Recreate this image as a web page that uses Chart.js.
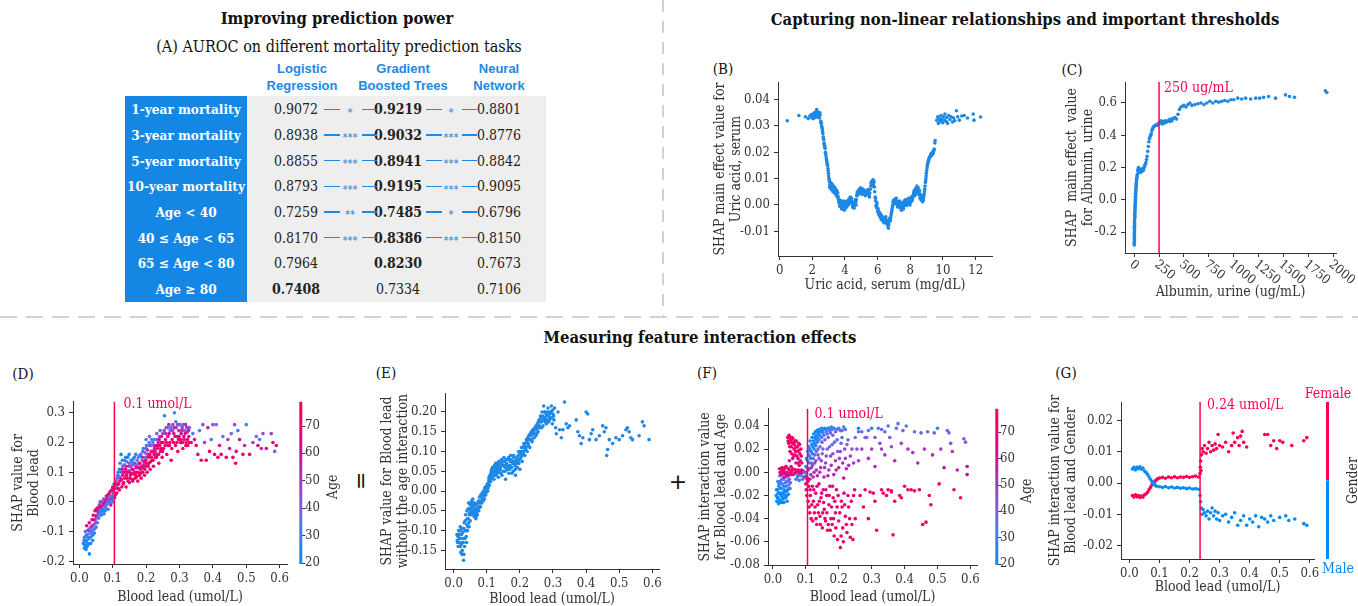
<!DOCTYPE html>
<html>
<head>
<meta charset="utf-8">
<title>SHAP figure</title>
<script src="https://cdn.jsdelivr.net/npm/chart.js@4.4.1/dist/chart.umd.min.js"></script>
<style>
  html, body { margin: 0; padding: 0; background: #fff; }
  body { position: relative; width: 1358px; height: 606px; overflow: hidden;
         font-family: "DejaVu Serif Condensed", "DejaVu Serif", serif; color: #111; }
  .t { position: absolute; transform: translate(-50%, -50%); white-space: nowrap; }
  canvas { position: absolute; }
  .head { font-weight: bold; font-size: 16.5px; }
  .sub { font-size: 16px; }
  .colhead { font-family: "Liberation Sans", Arial, sans-serif; font-weight: bold; font-size: 13px;
             color: #1e88e5; line-height: 17px; text-align: center; }
  .rowlab { color: #fff; font-weight: bold; font-size: 13.5px; }
  .val { font-size: 14px; color: #222; }
  .star { font-family: "DejaVu Sans", sans-serif; font-size: 10px; color: #1a7fd8; }
  .panel { font-size: 15px; color: #111; }
  .op { font-family: "DejaVu Sans", sans-serif; font-size: 22px; color: #111; }
  .seg { position: absolute; height: 1.5px; background: #1e88e5; }
</style>
</head>
<body>
<div style="position:absolute;left:662px;top:0;width:2px;height:316px;background:repeating-linear-gradient(to bottom,#d2d2d2 0 12px,transparent 12px 21px)"></div>
<div style="position:absolute;left:0;top:316px;width:1358px;height:2px;background:repeating-linear-gradient(to right,#d2d2d2 0 17px,transparent 17px 26px)"></div>
<div style="position:absolute;left:125px;top:96px;width:122px;height:206px;background:#1487e4"></div>
<div style="position:absolute;left:247px;top:96px;width:299px;height:206px;background:#eeeeee"></div>
<script>
const RED = '#ff0051', BLUE = '#008bfb', DOT = '#1e88e5', INK = '#333333';
const SERIF = '"DejaVu Serif Condensed", "DejaVu Serif", serif';

/* ================= DATA ================= */

// (A) AUROC table
const tasks = ['1-year mortality', '3-year mortality', '5-year mortality', '10-year mortality',
               'Age < 40', '40 ≤ Age < 65', '65 ≤ Age < 80', 'Age ≥ 80'];
const modelNames = [['Logistic', 'Regression'], ['Gradient', 'Boosted Trees'], ['Neural', 'Network']];
const lrAuc  = [0.9072, 0.8938, 0.8855, 0.8793, 0.7259, 0.8170, 0.7964, 0.7408];
const gbtAuc = [0.9219, 0.9032, 0.8941, 0.9195, 0.7485, 0.8386, 0.8230, 0.7334];
const nnAuc  = [0.8801, 0.8776, 0.8842, 0.9095, 0.6796, 0.8150, 0.7673, 0.7106];
const lrStars = ['*', '***', '***', '***', '**', '***', '', ''];
const nnStars = ['*', '***', '***', '***', '*', '***', '', ''];

// (B) uric acid [x, shap]
const uricPts = [
  [0.47,0.032],[1.18,0.034],[1.58,0.0335],[1.75,0.0328],[1.85,0.0338],[1.92,0.0342],[1.98,0.0330],[2.03,0.0345],
  [2.08,0.0336],[2.12,0.0350],[2.17,0.0340],[2.2,0.0332],[2.24,0.0355],[2.27,0.0362],[2.3,0.0345],[2.33,0.0352],
  [2.36,0.0338],[2.4,0.0348],[2.44,0.0330],[2.48,0.0342],
  [2.0,0.0338],[2.06,0.0328],[2.14,0.0345],[2.22,0.0340],[2.26,0.0334],[2.32,0.0340],[2.38,0.0352],[2.42,0.0340],
  [2.46,0.0350],
  [2.52,0.0318],[2.55,0.0310],[2.57,0.0300],[2.6,0.0292],[2.62,0.0285],[2.65,0.0270],[2.67,0.0258],[2.7,0.0248],
  [2.72,0.0235],[2.75,0.0225],[2.78,0.0215],[2.8,0.0200],[2.83,0.0188],[2.86,0.0178],[2.88,0.0168],[2.9,0.0160],
  [2.93,0.0150],[2.96,0.0138],[2.99,0.0120],[3.02,0.0100],[3.05,0.0088],
  [2.53,0.0312],[2.58,0.0296],[2.63,0.0278],[2.68,0.0252],[2.73,0.0230],[2.77,0.0220],[2.82,0.0195],[2.87,0.0172],
  [2.92,0.0155],[2.97,0.0130],[3.0,0.0110],[3.04,0.0095],
  [3.08,0.0078],[3.1,0.0065],[3.12,0.0085],[3.15,0.0072],[3.18,0.0058],[3.2,0.0080],[3.24,0.0066],[3.27,0.0050],
  [3.3,0.0072],[3.33,0.0060],[3.36,0.0045],[3.4,0.0064],[3.43,0.0052],[3.46,0.0038],[3.5,0.0055],[3.53,0.0030],
  [3.56,0.0045],[3.6,0.0022],
  [3.06,0.0068],[3.11,0.0075],[3.14,0.0062],[3.17,0.0078],[3.22,0.0070],[3.26,0.0062],[3.29,0.0058],[3.32,0.0068],
  [3.38,0.0052],[3.42,0.0060],[3.48,0.0045],[3.52,0.0048],[3.58,0.0032],
  [3.64,0.0010],[3.68,-0.0005],[3.72,0.0018],[3.76,0.0002],[3.8,-0.0015],[3.84,0.0008],[3.88,-0.0008],[3.92,0.0015],
  [3.96,-0.0020],[4.0,0.0003],[4.04,-0.0012],[4.08,0.0010],[4.12,-0.0004],[4.16,0.0016],[4.2,0.0000],[4.24,0.0022],
  [4.28,0.0008],[4.32,0.0030],[4.36,0.0015],[4.4,0.0025],[4.44,0.0005],[4.48,-0.0010],[4.52,0.0002],[4.56,-0.0012],
  [4.6,0.0008],[4.64,0.0020],[4.68,0.0000],[4.72,0.0035],
  [3.62,0.0015],[3.66,0.0005],[3.7,0.0008],[3.74,-0.0008],[3.78,0.0010],[3.82,0.0002],[3.86,0.0012],[3.9,-0.0005],
  [3.94,0.0005],[3.98,-0.0010],[4.02,0.0012],[4.06,0.0000],[4.1,-0.0008],[4.14,0.0008],[4.18,0.0006],[4.22,0.0012],
  [4.26,0.0015],[4.3,0.0020],[4.34,0.0022],[4.38,0.0008],[4.42,0.0015],[4.46,-0.0002],[4.5,-0.0005],[4.54,0.0005],
  [4.58,-0.0002],[4.62,0.0012],[4.66,0.0010],[4.7,0.0020],[4.74,0.0042],
  [4.76,0.0050],[4.8,0.0038],[4.85,0.0058],[4.9,0.0045],[4.95,0.0065],[5.0,0.0052],[5.05,0.0040],[5.1,0.0060],
  [5.15,0.0048],[5.2,0.0055],[5.25,0.0035],[5.3,0.0050],[5.35,0.0040],[5.4,0.0058],[5.45,0.0044],[5.5,0.0030],
  [5.55,0.0060],[5.6,0.0085],[5.63,0.0075],[5.66,0.0092],[5.7,0.0080],[5.73,0.0095],[5.76,0.0070],[5.78,0.0088],
  [4.78,0.0045],[4.82,0.0050],[4.88,0.0052],[4.92,0.0055],[4.98,0.0060],[5.02,0.0045],[5.08,0.0050],[5.12,0.0054],
  [5.18,0.0042],[5.22,0.0048],[5.28,0.0044],[5.32,0.0046],[5.38,0.0050],[5.42,0.0050],[5.48,0.0038],[5.52,0.0045],
  [5.58,0.0072],[5.62,0.0082],[5.68,0.0088],[5.72,0.0088],[5.75,0.0080],[5.8,0.0068],
  [5.82,0.0050],[5.85,0.0030],[5.88,0.0015],[5.9,-0.0002],[5.93,-0.0010],[5.96,0.0008],[6.0,-0.0025],[6.03,-0.0015],
  [6.06,-0.0035],[6.1,-0.0028],[6.14,-0.0045],[6.18,-0.0035],[6.22,-0.0055],[6.26,-0.0042],[6.3,-0.0060],
  [6.34,-0.0048],[6.38,-0.0068],[6.42,-0.0052],[6.46,-0.0062],[6.5,-0.0045],[6.54,-0.0070],[6.58,-0.0058],
  [6.62,-0.0080],[6.66,-0.0088],[6.7,-0.0065],[6.74,-0.0050],[6.78,-0.0060],[6.82,-0.0040],[6.86,-0.0025],
  [5.87,0.0025],[5.95,0.0000],[5.98,-0.0012],[6.02,-0.0020],[6.08,-0.0030],[6.12,-0.0038],[6.16,-0.0040],
  [6.2,-0.0045],[6.24,-0.0050],[6.28,-0.0050],[6.32,-0.0055],[6.36,-0.0058],[6.4,-0.0060],[6.44,-0.0058],
  [6.48,-0.0055],[6.52,-0.0058],[6.56,-0.0065],[6.6,-0.0068],[6.64,-0.0072],[6.68,-0.0075],[6.72,-0.0058],
  [6.76,-0.0055],[6.8,-0.0050],[6.84,-0.0032],[6.88,-0.0018],
  [6.9,-0.0010],[6.94,0.0008],[6.98,0.0018],[7.02,0.0005],[7.06,0.0022],[7.1,0.0010],[7.14,0.0025],[7.18,0.0002],
  [7.22,-0.0008],[7.26,0.0012],[7.3,-0.0002],[7.34,0.0015],[7.38,-0.0012],[7.42,0.0005],[7.46,-0.0020],[7.5,-0.0005],
  [7.54,0.0010],[7.58,-0.0015],[7.62,0.0002],[7.66,0.0018],[7.7,0.0004],[7.74,0.0020],[7.78,-0.0002],[7.82,0.0015],
  [7.86,0.0008],[7.9,0.0025],[7.94,0.0010],[7.98,0.0000],[8.02,0.0018],[8.06,0.0030],[8.1,0.0015],[8.14,0.0028],
  [6.92,-0.0002],[6.96,0.0012],[7.0,0.0012],[7.04,0.0015],[7.08,0.0015],[7.12,0.0018],[7.16,0.0012],[7.2,0.0005],
  [7.24,0.0002],[7.28,0.0005],[7.32,0.0006],[7.36,0.0002],[7.4,-0.0004],[7.44,-0.0008],[7.48,-0.0012],[7.52,0.0002],
  [7.56,-0.0004],[7.6,-0.0006],[7.64,0.0010],[7.68,0.0012],[7.72,0.0012],[7.76,0.0010],[7.8,0.0006],[7.84,0.0012],
  [7.88,0.0016],[7.92,0.0018],[7.96,0.0005],[8.0,0.0010],[8.04,0.0025],[8.08,0.0022],[8.12,0.0022],[8.16,0.0035],
  [8.2,0.0040],[8.24,0.0055],[8.28,0.0035],[8.32,0.0062],[8.36,0.0045],[8.4,0.0072],[8.44,0.0050],[8.48,0.0065],
  [8.52,0.0040],[8.56,0.0055],[8.6,0.0025],[8.64,0.0038],[8.68,0.0018],[8.72,0.0030],[8.76,0.0012],[8.8,0.0025],
  [8.84,0.0040],[8.88,0.0060],[8.92,0.0085],[8.95,0.0100],[8.98,0.0120],[9.02,0.0140],[9.05,0.0155],[9.1,0.0165],
  [8.22,0.0048],[8.26,0.0045],[8.3,0.0048],[8.34,0.0052],[8.38,0.0058],[8.42,0.0060],[8.46,0.0058],[8.5,0.0052],
  [8.54,0.0048],[8.58,0.0040],[8.62,0.0032],[8.66,0.0028],[8.7,0.0024],[8.74,0.0020],[8.78,0.0018],[8.82,0.0032],
  [8.86,0.0050],[8.9,0.0072],[8.94,0.0092],[8.97,0.0110],[9.0,0.0130],[9.04,0.0148],[9.08,0.0160],[9.12,0.0170],
  [9.16,0.0178],[9.2,0.0182],[9.24,0.0188],[9.28,0.0195],[9.32,0.0192],[9.36,0.0200],[9.4,0.0198],[9.44,0.0208],
  [9.14,0.0175],[9.18,0.0180],[9.22,0.0185],[9.26,0.0192],[9.3,0.0188],[9.34,0.0198],[9.38,0.0195],[9.42,0.0205],
  [9.46,0.0212],[9.5,0.0235],[9.52,0.0245],
  [9.62,0.0322],[9.68,0.0335],[9.72,0.0310],[9.78,0.0328],[9.82,0.0318],[9.88,0.0340],[9.92,0.0325],[9.98,0.0312],
  [10.02,0.0335],[10.08,0.0322],[10.12,0.0345],[10.18,0.0318],[10.22,0.0332],[10.28,0.0310],[10.35,0.0340],
  [10.42,0.0325],[10.5,0.0335],[10.58,0.0315],[10.65,0.0330],[10.72,0.0320],[10.82,0.0358],[10.9,0.0335],
  [11.0,0.0322],[11.15,0.0338],[11.3,0.0340],[11.5,0.0330],[11.85,0.0345],[11.9,0.0322],[12.3,0.0334]
];
const uricTicksX = [0, 2, 4, 6, 8, 10, 12];
const uricTicksY = [-0.01, 0, 0.01, 0.02, 0.03, 0.04];

// (C) urine albumin [x, shap]
const albuminPts = [
  [1,-0.28],[0,-0.27],[2,-0.26],[4,-0.25],[1,-0.24],[2,-0.23],[3,-0.22],[1,-0.21],[2,-0.20],[4,-0.19],[3,-0.18],
  [2,-0.17],[4,-0.16],[5,-0.15],[3,-0.14],[4,-0.13],[5,-0.12],[7,-0.11],[6,-0.10],[7,-0.09],[6,-0.08],[9,-0.07],
  [8,-0.06],[10,-0.05],[9,-0.04],[12,-0.03],[10,-0.02],[13,-0.01],[11,0.0],[14,0.01],[12,0.02],[15,0.03],[14,0.04],
  [17,0.05],[16,0.06],[19,0.07],[18,0.08],[21,0.09],[20,0.10],[22,0.11],[24,0.12],[25,0.13],[28,0.14],[30,0.15],
  [33,0.16],[36,0.18],[40,0.19],[44,0.20],[48,0.18],[52,0.19],[56,0.17],[60,0.18],[65,0.17],[70,0.185],[75,0.175],
  [80,0.19],[85,0.18],[90,0.195],[95,0.185],[100,0.2],[106,0.21],[112,0.22],[118,0.23],[124,0.25],[130,0.27],
  [136,0.3],[142,0.33],[148,0.36],[154,0.38],[160,0.39],[166,0.40],[172,0.41],[178,0.43],[185,0.44],[192,0.45],
  [200,0.455],[210,0.46],[220,0.465],[230,0.46],[240,0.47],[250,0.475],[260,0.48],[270,0.49],[280,0.47],[290,0.485],
  [300,0.475],[310,0.49],[320,0.48],[330,0.485],[340,0.49],[350,0.495],[360,0.485],[370,0.5],[380,0.49],[395,0.505],
  [410,0.51],[425,0.5],[440,0.53],[455,0.56],[470,0.575],[485,0.58],[500,0.585],[520,0.575],[540,0.59],[560,0.6],
  [580,0.585],[610,0.59],[640,0.595],[670,0.6],[700,0.59],[730,0.6],[760,0.61],[790,0.6],[820,0.61],[850,0.605],
  [880,0.61],[910,0.615],[940,0.61],[970,0.62],[1000,0.62],[1040,0.63],[1080,0.625],[1120,0.63],[1170,0.625],
  [1220,0.63],[1260,0.63],[1300,0.635],[1350,0.64],[1420,0.63],[1520,0.65],[1560,0.64],[1610,0.635],
  [1920,0.675],[1935,0.665]
];
const albuminTicksX = [0, 250, 500, 750, 1000, 1250, 1500, 1750, 2000];
const albuminTicksY = [-0.2, 0, 0.2, 0.4, 0.6];

// (D) blood lead SHAP value [x, shap, age]
const leadPts = [
  [0.012,-0.14,25],[0.015,-0.12,30],[0.015,-0.155,22],[0.018,-0.10,35],[0.02,-0.13,25],[0.02,-0.16,20],
  [0.022,-0.08,65],[0.024,-0.11,28],[0.025,-0.145,24],[0.027,-0.095,60],[0.028,-0.125,26],[0.03,-0.175,22],
  [0.03,-0.07,70],[0.032,-0.105,30],[0.034,-0.14,25],[0.035,-0.085,55],[0.037,-0.115,27],[0.038,-0.06,68],
  [0.04,-0.095,32],[0.04,-0.13,24],[0.042,-0.045,70],[0.044,-0.075,40],[0.045,-0.105,26],[0.047,-0.03,72],
  [0.048,-0.06,35],[0.05,-0.085,25],[0.05,-0.025,66],[0.052,-0.045,50],[0.054,-0.07,28],[0.055,-0.02,70],
  [0.057,-0.035,62],[0.058,-0.055,30],[0.06,-0.01,45],[0.06,-0.04,25],[0.062,0.0,35],[0.064,-0.025,68],
  [0.066,-0.045,28],[0.068,-0.015,55],[0.07,-0.03,40],[0.072,-0.005,65],[0.074,-0.04,26],[0.076,0.005,50],
  [0.078,-0.02,30],[0.08,0.01,70],[0.082,-0.01,40],[0.084,0.02,60],[0.086,-0.025,28],[0.088,0.0,66],
  [0.09,0.03,72],[0.092,0.01,35],[0.094,-0.01,60],[0.096,0.04,45],[0.098,0.02,68],[0.1,0.0,30],[0.1,0.05,70],
  [0.102,0.03,50],[0.104,0.06,28],[0.106,0.015,65],[0.108,0.045,72],[0.11,0.07,35],
  [0.014,-0.13,28],[0.016,-0.145,22],[0.019,-0.115,26],[0.021,-0.135,24],[0.023,-0.15,21],[0.026,-0.12,30],
  [0.029,-0.14,23],[0.031,-0.09,40],[0.033,-0.12,27],[0.036,-0.1,33],[0.039,-0.08,55],[0.041,-0.11,26],
  [0.043,-0.06,62],[0.046,-0.09,30],[0.049,-0.07,45],[0.051,-0.05,70],[0.053,-0.03,68],[0.056,-0.05,35],
  [0.059,-0.025,60],[0.061,-0.03,27],[0.063,-0.015,72],[0.065,-0.035,32],[0.067,0.0,50],[0.069,-0.025,26],
  [0.071,-0.012,70],[0.073,0.01,45],[0.075,-0.015,35],[0.077,-0.03,24],[0.079,0.0,62],[0.081,0.02,70],
  [0.083,-0.005,30],[0.085,0.01,55],[0.087,0.025,72],[0.089,0.015,40],[0.091,0.0,28],[0.093,0.035,66],
  [0.095,0.02,30],[0.097,0.01,55],[0.099,0.04,72],[0.101,0.015,25],[0.103,0.045,66],[0.105,0.03,35],
  [0.107,0.06,70],[0.109,0.025,62],
  [0.112,0.03,70],[0.115,0.09,30],[0.118,0.06,60],[0.12,0.11,25],[0.12,0.04,72],[0.123,0.08,55],[0.125,0.16,22],
  [0.127,0.05,68],[0.13,0.12,30],[0.13,0.09,65],[0.133,0.065,70],[0.135,0.14,28],[0.137,0.1,50],[0.14,0.05,72],
  [0.14,0.12,62],[0.143,0.08,70],[0.145,0.15,25],[0.147,0.105,45],[0.15,0.065,66],[0.15,0.13,35],[0.153,0.09,72],
  [0.155,0.14,24],[0.157,0.11,60],[0.16,0.07,70],[0.16,0.125,40],[0.163,0.095,68],[0.165,0.15,30],[0.167,0.08,72],
  [0.17,0.12,55],[0.17,0.1,65],[0.173,0.14,28],[0.175,0.07,70],[0.178,0.13,45],[0.18,0.09,72],[0.18,0.155,26],
  [0.183,0.11,62],[0.185,0.08,68],[0.188,0.14,35],[0.19,0.1,70],[0.19,0.17,30],[0.193,0.125,55],[0.195,0.09,72],
  [0.198,0.15,40],[0.2,0.12,68],[0.2,0.18,28],[0.2,0.21,30],[0.203,0.1,72],[0.205,0.16,50],[0.208,0.13,66],
  [0.21,0.19,35],[0.21,0.22,40],[0.212,0.11,70],[0.215,0.17,60],[0.218,0.14,72],[0.22,0.2,30],[0.222,0.12,68],
  [0.225,0.18,55],[0.228,0.15,72],[0.23,0.21,40],[0.233,0.16,66],[0.235,0.19,60],[0.238,0.13,70],[0.24,0.22,45],
  [0.243,0.17,72],[0.245,0.2,58],[0.248,0.15,70],
  [0.111,0.05,45],[0.113,0.08,28],[0.114,0.06,70],[0.116,0.1,24],[0.117,0.045,66],[0.119,0.085,40],[0.121,0.07,72],
  [0.122,0.13,28],[0.124,0.1,35],[0.126,0.075,70],[0.128,0.11,60],[0.129,0.14,26],[0.131,0.06,72],[0.132,0.1,68],
  [0.134,0.125,40],[0.136,0.08,72],[0.138,0.11,66],[0.139,0.15,22],[0.141,0.09,70],[0.142,0.135,35],[0.144,0.1,72],
  [0.146,0.07,68],[0.148,0.12,55],[0.149,0.16,24],[0.151,0.1,70],[0.152,0.08,72],[0.154,0.12,45],[0.156,0.095,68],
  [0.158,0.135,30],[0.159,0.075,72],[0.161,0.11,66],[0.162,0.145,28],[0.164,0.1,70],[0.166,0.13,50],[0.168,0.09,72],
  [0.169,0.16,26],[0.171,0.115,66],[0.172,0.085,70],[0.174,0.125,40],[0.176,0.1,72],[0.177,0.15,30],[0.179,0.115,62],
  [0.181,0.13,70],[0.182,0.095,72],[0.184,0.16,35],[0.186,0.12,68],[0.187,0.1,72],[0.189,0.15,55],[0.191,0.115,70],
  [0.192,0.18,28],[0.194,0.135,66],[0.196,0.11,72],[0.197,0.165,40],[0.199,0.14,70],[0.201,0.19,32],[0.202,0.13,72],
  [0.204,0.175,55],[0.206,0.12,70],[0.207,0.15,68],[0.209,0.2,30],[0.211,0.16,72],[0.213,0.135,70],[0.214,0.19,45],
  [0.216,0.15,72],[0.217,0.21,28],[0.219,0.17,66],[0.221,0.14,72],[0.223,0.19,50],[0.224,0.16,70],[0.226,0.21,35],
  [0.227,0.17,72],[0.229,0.19,62],[0.231,0.15,70],[0.232,0.23,40],[0.234,0.18,72],[0.236,0.2,55],[0.237,0.16,70],
  [0.239,0.21,66],[0.241,0.19,72],[0.242,0.24,35],[0.244,0.18,70],[0.246,0.22,60],[0.247,0.2,72],[0.249,0.17,70],
  [0.25,0.23,50],[0.252,0.18,70],[0.255,0.29,25],[0.258,0.21,65],[0.26,0.25,45],[0.262,0.16,72],[0.265,0.22,60],
  [0.268,0.26,55],[0.27,0.19,70],[0.272,0.24,40],[0.275,0.14,72],[0.278,0.21,66],[0.28,0.26,50],[0.283,0.23,62],
  [0.285,0.3,30],[0.288,0.19,70],[0.29,0.25,48],[0.293,0.22,68],[0.295,0.17,72],[0.298,0.24,55],[0.3,0.26,45],
  [0.303,0.2,70],[0.305,0.23,62],[0.308,0.25,50],[0.31,0.18,72],[0.313,0.22,66],[0.315,0.24,40],[0.318,0.26,60],
  [0.32,0.2,70],[0.323,0.235,52],[0.325,0.19,72],[0.328,0.22,65],[0.33,0.25,35],
  [0.251,0.2,72],[0.254,0.24,45],[0.257,0.19,70],[0.259,0.23,55],[0.261,0.2,68],[0.264,0.25,40],[0.266,0.19,72],
  [0.269,0.23,60],[0.271,0.2,70],[0.274,0.25,35],[0.277,0.18,72],[0.279,0.24,48],[0.282,0.2,70],[0.284,0.25,55],
  [0.287,0.22,72],[0.289,0.27,30],[0.292,0.2,70],[0.294,0.26,45],[0.297,0.21,72],[0.299,0.22,62],[0.302,0.26,40],
  [0.304,0.21,70],[0.307,0.24,55],[0.309,0.2,72],[0.312,0.26,45],[0.314,0.21,70],[0.317,0.23,62],[0.319,0.19,72],
  [0.322,0.25,50],[0.324,0.21,70],[0.327,0.24,60],[0.329,0.2,72],
  [0.335,0.2,70],[0.34,0.23,35],[0.345,0.21,60],[0.35,0.19,72],[0.355,0.16,65],[0.36,0.24,30],[0.365,0.14,70],
  [0.37,0.26,45],[0.375,0.2,50],[0.38,0.14,72],[0.385,0.25,55],[0.39,0.17,68],[0.395,0.21,30],[0.4,0.26,45],
  [0.405,0.16,70],[0.41,0.26,40],[0.415,0.15,72],[0.42,0.19,60],[0.425,0.16,68],[0.43,0.22,35],[0.44,0.15,72],
  [0.445,0.21,50],[0.45,0.18,60],[0.455,0.23,40],[0.46,0.15,70],[0.465,0.26,45],[0.468,0.13,72],[0.47,0.17,65],
  [0.475,0.24,30],[0.48,0.21,60],[0.49,0.16,70],[0.495,0.19,55],[0.5,0.26,30],[0.51,0.16,68],[0.52,0.2,50],
  [0.53,0.22,40],[0.535,0.19,65],[0.54,0.21,28],[0.545,0.18,55],[0.55,0.23,45],[0.56,0.18,60],[0.575,0.23,50],
  [0.58,0.2,70],[0.585,0.17,35],[0.59,0.19,72]
];
const leadTicksX = [0, 0.1, 0.2, 0.3, 0.4, 0.5, 0.6];
const leadTicksY = [-0.2, -0.1, 0, 0.1, 0.2, 0.3];

// (E) blood lead main effect without age interaction [x, shap]
const leadMainPts = [
  [0.01,-0.11],[0.012,-0.13],[0.015,-0.1],[0.018,-0.12],[0.02,-0.14],[0.02,-0.09],[0.022,-0.155],[0.024,-0.11],
  [0.025,-0.16],[0.026,-0.13],[0.028,-0.095],[0.03,-0.175],[0.03,-0.12],[0.032,-0.08],[0.033,-0.14],[0.035,-0.1],
  [0.036,-0.06],[0.038,-0.115],[0.04,-0.085],[0.04,-0.05],[0.042,-0.1],[0.044,-0.07],[0.045,-0.03],[0.047,-0.09],
  [0.048,-0.055],[0.05,-0.035],[0.05,-0.075],[0.052,-0.045],[0.054,-0.025],[0.055,-0.06],[0.057,-0.04],
  [0.058,-0.02],[0.06,-0.05],[0.062,-0.065],[0.063,-0.03],[0.065,-0.045],[0.067,-0.07],[0.068,-0.055],
  [0.07,-0.035],[0.072,-0.06],[0.074,-0.045],[0.075,-0.025],[0.077,-0.04],[0.078,-0.015],[0.08,-0.03],
  [0.082,-0.01],[0.084,-0.025],[0.086,-0.005],[0.088,-0.02],[0.09,0.0],[0.092,-0.012],[0.094,0.008],
  [0.096,-0.005],[0.098,0.012],[0.1,-0.002],[0.102,0.018],[0.104,0.008],[0.106,0.028],[0.108,0.015],[0.11,0.04],
  [0.011,-0.125],[0.013,-0.115],[0.014,-0.14],[0.016,-0.11],[0.017,-0.13],[0.019,-0.1],[0.021,-0.12],[0.023,-0.135],
  [0.024,-0.095],[0.026,-0.15],[0.027,-0.105],[0.029,-0.13],[0.031,-0.16],[0.031,-0.095],[0.034,-0.12],
  [0.035,-0.075],[0.037,-0.1],[0.039,-0.13],[0.041,-0.07],[0.043,-0.09],[0.044,-0.045],[0.046,-0.08],[0.047,-0.06],
  [0.049,-0.045],[0.051,-0.06],[0.053,-0.03],[0.054,-0.05],[0.056,-0.035],[0.057,-0.055],[0.059,-0.04],
  [0.061,-0.03],[0.062,-0.05],[0.064,-0.06],[0.066,-0.035],[0.068,-0.065],[0.069,-0.045],[0.071,-0.05],
  [0.073,-0.03],[0.076,-0.05],[0.079,-0.025],[0.081,-0.04],[0.083,-0.015],[0.085,-0.03],[0.087,-0.01],
  [0.089,-0.025],[0.091,-0.005],[0.093,-0.02],[0.095,0.0],[0.097,-0.01],[0.099,0.005],[0.101,0.01],[0.103,0.0],
  [0.105,0.02],[0.107,0.035],[0.109,0.025],
  [0.112,0.025],[0.114,0.05],[0.116,0.035],[0.118,0.06],[0.12,0.045],[0.122,0.03],[0.124,0.065],[0.126,0.05],
  [0.128,0.04],[0.13,0.07],[0.132,0.055],[0.135,0.035],[0.137,0.075],[0.14,0.06],[0.142,0.045],[0.145,0.08],
  [0.147,0.065],[0.15,0.05],[0.152,0.085],[0.155,0.06],[0.157,0.03],[0.16,0.07],[0.162,0.055],[0.165,0.08],
  [0.167,0.045],[0.17,0.065],[0.172,0.09],[0.175,0.06],[0.177,0.075],[0.18,0.05],[0.182,0.085],[0.185,0.065],
  [0.187,0.04],[0.19,0.08],[0.192,0.06],[0.195,0.09],[0.197,0.07],[0.2,0.1],[0.2,0.055],[0.203,0.085],
  [0.205,0.11],[0.207,0.075],[0.21,0.095],[0.212,0.12],[0.215,0.09],[0.217,0.105],[0.22,0.13],[0.222,0.1],
  [0.225,0.12],[0.227,0.14],[0.23,0.11],[0.232,0.13],[0.235,0.15],[0.237,0.125],[0.24,0.145],[0.243,0.135],
  [0.245,0.16],[0.248,0.14],[0.25,0.155],[0.253,0.17],[0.255,0.15],[0.258,0.18],[0.26,0.16],[0.262,0.19],
  [0.265,0.175],[0.267,0.2],[0.27,0.165],[0.272,0.215],[0.275,0.185],[0.277,0.2],[0.28,0.17],[0.282,0.19],
  [0.285,0.21],[0.287,0.175],[0.29,0.2],[0.292,0.185],[0.295,0.215],[0.298,0.17],[0.3,0.195],[0.303,0.18],
  [0.305,0.21],[0.308,0.16],
  [0.111,0.03],[0.113,0.045],[0.115,0.055],[0.117,0.04],[0.119,0.05],[0.121,0.06],[0.123,0.04],[0.125,0.055],
  [0.127,0.07],[0.129,0.06],[0.131,0.045],[0.134,0.065],[0.136,0.05],[0.139,0.07],[0.141,0.055],[0.144,0.07],
  [0.146,0.04],[0.149,0.075],[0.151,0.065],[0.154,0.075],[0.156,0.05],[0.159,0.08],[0.161,0.065],[0.164,0.06],
  [0.166,0.085],[0.169,0.055],[0.171,0.075],[0.174,0.08],[0.176,0.045],[0.179,0.07],[0.181,0.09],[0.184,0.075],
  [0.186,0.055],[0.189,0.07],[0.191,0.085],[0.194,0.075],[0.196,0.1],[0.199,0.08],[0.201,0.095],[0.204,0.1],
  [0.206,0.09],[0.209,0.11],[0.211,0.1],[0.214,0.115],[0.216,0.12],[0.219,0.11],[0.221,0.125],[0.224,0.135],
  [0.226,0.115],[0.229,0.13],[0.231,0.145],[0.234,0.14],[0.236,0.13],[0.239,0.155],[0.241,0.15],[0.244,0.145],
  [0.246,0.155],[0.249,0.165],[0.251,0.145],[0.254,0.16],[0.256,0.175],[0.259,0.165],[0.261,0.175],[0.264,0.185],
  [0.266,0.16],[0.269,0.19],[0.271,0.18],[0.274,0.2],[0.276,0.175],[0.279,0.195],[0.281,0.18],[0.284,0.2],
  [0.286,0.19],[0.289,0.18],[0.291,0.195],[0.294,0.2],[0.296,0.185],[0.299,0.205],[0.302,0.19],
  [0.31,0.145],[0.315,0.2],[0.32,0.155],[0.325,0.135],[0.33,0.155],[0.335,0.225],[0.34,0.17],[0.345,0.16],
  [0.35,0.165],[0.37,0.18],[0.375,0.15],[0.38,0.14],[0.385,0.12],[0.39,0.135],[0.4,0.2],[0.405,0.195],
  [0.41,0.13],[0.415,0.145],[0.42,0.155],[0.43,0.13],[0.44,0.14],[0.45,0.165],[0.455,0.15],[0.46,0.16],
  [0.462,0.09],[0.465,0.105],[0.47,0.13],[0.48,0.12],[0.49,0.135],[0.5,0.13],[0.51,0.14],[0.52,0.155],
  [0.525,0.16],[0.53,0.15],[0.535,0.135],[0.54,0.13],[0.56,0.14],[0.57,0.175],[0.575,0.165],[0.59,0.13]
];
const leadMainTicksY = [-0.15, -0.1, -0.05, 0, 0.05, 0.1, 0.15, 0.2];

// (F) interaction blood lead x age [x, shap, age]
const leadAgePts = [
  [0.01,-0.02,22],[0.012,-0.025,20],[0.014,-0.015,24],[0.015,-0.022,21],[0.017,-0.027,20],[0.018,-0.012,25],
  [0.02,-0.018,22],[0.021,-0.024,20],[0.022,-0.008,28],[0.024,-0.02,22],[0.025,-0.014,24],[0.026,-0.026,20],
  [0.028,-0.01,30],[0.03,-0.018,23],[0.031,-0.023,21],[0.032,-0.006,35],[0.034,-0.015,26],[0.035,-0.02,22],
  [0.037,-0.009,32],[0.038,-0.017,25],[0.04,-0.004,40],[0.04,-0.012,30],[0.042,-0.02,24],[0.044,-0.008,38],
  [0.045,-0.015,28],[0.046,-0.003,45],[0.048,-0.011,33],[0.05,-0.006,42],[0.052,-0.014,26],
  [0.011,-0.015,22],[0.013,-0.022,20],[0.016,-0.018,21],[0.019,-0.026,20],[0.019,-0.01,26],[0.023,-0.014,22],
  [0.023,-0.025,20],[0.027,-0.018,21],[0.027,-0.006,30],[0.029,-0.022,20],[0.033,-0.012,25],[0.033,-0.026,20],
  [0.036,-0.016,22],[0.036,-0.004,35],[0.039,-0.022,21],[0.041,-0.008,32],[0.043,-0.016,24],[0.043,-0.025,20],
  [0.047,-0.019,22],[0.047,-0.007,36],[0.049,-0.014,28],[0.051,-0.002,44],[0.053,-0.009,34],[0.015,-0.008,28],
  [0.021,-0.003,34],[0.031,-0.001,40],[0.039,0.0,46],
  [0.02,0.003,70],[0.025,-0.002,68],[0.028,0.004,72],[0.03,0.0,65],[0.033,-0.004,60],[0.035,0.003,70],
  [0.038,-0.001,66],[0.04,0.005,72],[0.043,0.0,62],[0.045,-0.003,58],[0.05,0.002,70],[0.055,-0.002,66],
  [0.06,0.003,72],[0.065,-0.001,68],[0.07,0.002,60],[0.075,-0.003,55],[0.08,0.001,70],[0.085,-0.002,64],
  [0.09,0.0,70],[0.095,-0.004,60],
  [0.022,0.0,70],[0.027,0.002,66],[0.032,0.001,70],[0.037,0.004,72],[0.042,-0.002,68],[0.047,0.003,70],
  [0.052,-0.001,66],[0.057,0.001,70],[0.062,-0.002,64],[0.067,0.002,70],[0.072,0.0,66],[0.077,0.002,72],
  [0.082,-0.001,62],[0.087,0.002,70],[0.092,0.001,66],
  [0.045,0.03,72],[0.048,0.025,70],[0.05,0.031,72],[0.052,0.018,68],[0.054,0.028,72],[0.056,0.022,70],
  [0.058,0.03,72],[0.06,0.012,66],[0.062,0.026,72],[0.064,0.02,70],[0.066,0.015,68],[0.068,0.027,72],
  [0.07,0.008,64],[0.072,0.022,70],[0.074,0.018,72],[0.076,0.012,66],[0.078,0.025,72],[0.08,0.006,68],
  [0.082,0.016,70],[0.085,0.02,72],[0.05,0.01,60],[0.055,0.005,65],
  [0.046,0.027,72],[0.049,0.032,70],[0.051,0.022,72],[0.053,0.03,70],[0.055,0.026,72],[0.057,0.016,68],
  [0.059,0.025,72],[0.061,0.029,70],[0.063,0.014,70],[0.065,0.024,72],[0.067,0.021,70],[0.069,0.018,72],
  [0.071,0.027,70],[0.073,0.014,68],[0.075,0.022,72],[0.077,0.008,66],[0.079,0.019,72],[0.081,0.024,70],
  [0.083,0.01,68],[0.086,0.014,70],[0.088,0.008,66],
  [0.07,-0.006,30],[0.075,-0.004,26],[0.08,-0.007,28],[0.085,-0.003,32],[0.09,-0.006,27],[0.095,0.0,35],
  [0.1,-0.003,30],
  [0.1,0.005,25],[0.105,0.01,22],[0.108,0.015,24],[0.11,0.008,28],[0.112,0.02,22],[0.115,0.012,26],
  [0.118,0.024,21],[0.12,0.016,25],[0.123,0.027,22],[0.125,0.02,26],[0.128,0.03,21],[0.13,0.023,27],
  [0.133,0.032,22],[0.135,0.026,28],[0.138,0.034,23],[0.14,0.028,30],[0.145,0.035,24],[0.148,0.03,32],
  [0.15,0.036,22],[0.155,0.032,30],[0.16,0.037,25],[0.165,0.033,34],[0.17,0.038,24],[0.175,0.034,38],
  [0.18,0.037,30],[0.19,0.035,40],[0.2,0.038,28],[0.21,0.036,42],[0.22,0.037,35],
  [0.102,0.012,24],[0.104,0.004,30],[0.106,0.018,22],[0.109,0.022,23],[0.111,0.014,27],[0.113,0.027,21],
  [0.116,0.018,25],[0.117,0.008,32],[0.119,0.03,22],[0.121,0.022,26],[0.122,0.012,34],[0.124,0.033,21],
  [0.126,0.025,24],[0.127,0.015,35],[0.129,0.035,22],[0.131,0.028,26],[0.132,0.018,36],[0.134,0.036,22],
  [0.136,0.03,27],[0.137,0.02,38],[0.139,0.037,23],[0.142,0.032,28],[0.143,0.022,40],[0.147,0.038,24],
  [0.149,0.026,38],[0.152,0.034,28],[0.157,0.038,25],[0.158,0.028,40],[0.162,0.035,30],[0.167,0.038,26],
  [0.168,0.03,42],[0.172,0.036,32],[0.178,0.039,28],[0.182,0.032,42],[0.186,0.038,30],[0.195,0.037,34],
  [0.205,0.036,38],[0.215,0.039,30],
  [0.1,0.0,45],[0.105,-0.005,50],[0.11,0.003,48],[0.115,-0.002,52],[0.12,0.006,46],[0.125,0.0,55],[0.13,0.01,44],
  [0.135,-0.003,56],[0.14,0.012,42],[0.145,0.004,50],[0.15,0.016,40],[0.155,-0.004,55],[0.16,0.008,48],
  [0.165,0.02,38],[0.17,0.002,52],[0.175,0.014,45],[0.18,0.024,36],[0.185,-0.002,56],[0.19,0.01,50],
  [0.195,0.028,34],[0.2,0.004,54],[0.205,0.018,44],[0.21,0.03,36],[0.215,-0.005,58],[0.22,0.012,48],
  [0.225,0.024,40],[0.23,0.006,52],[0.24,0.02,46],[0.25,0.03,38],[0.26,0.01,50],
  [0.102,-0.004,55],[0.107,0.002,50],[0.112,-0.006,58],[0.117,0.004,48],[0.122,-0.004,56],[0.127,0.008,46],
  [0.132,0.002,52],[0.137,0.015,42],[0.142,0.0,54],[0.147,0.01,48],[0.152,0.02,40],[0.157,0.004,52],
  [0.162,0.014,46],[0.167,-0.003,56],[0.172,0.022,40],[0.177,0.006,52],[0.182,0.016,46],[0.187,0.026,38],
  [0.192,0.002,55],[0.197,0.018,44],[0.202,0.012,48],[0.207,0.025,40],[0.212,0.008,52],[0.218,0.02,44],
  [0.223,0.003,55],[0.228,0.028,38],[0.235,0.014,48],[0.245,0.008,52],[0.255,0.02,44],
  [0.1,-0.01,70],[0.103,-0.02,72],[0.106,-0.008,68],[0.11,-0.03,72],[0.113,-0.015,70],[0.116,-0.04,72],
  [0.12,-0.012,66],[0.123,-0.025,72],[0.126,-0.035,70],[0.13,-0.018,68],[0.133,-0.045,72],[0.136,-0.028,70],
  [0.14,-0.01,64],[0.143,-0.038,72],[0.146,-0.022,70],[0.15,-0.048,72],[0.153,-0.015,66],[0.156,-0.032,72],
  [0.16,-0.042,70],[0.163,-0.02,68],[0.166,-0.05,72],[0.17,-0.028,70],[0.173,-0.012,64],[0.176,-0.04,72],
  [0.18,-0.045,70],[0.183,-0.022,68],[0.186,-0.055,72],[0.19,-0.035,70],[0.193,-0.015,66],[0.196,-0.058,72],
  [0.2,-0.042,70],[0.205,-0.065,72],[0.208,-0.025,68],[0.212,-0.048,72],[0.216,-0.018,66],[0.22,-0.038,70],
  [0.225,-0.052,72],[0.23,-0.03,70],[0.235,-0.056,72],[0.24,-0.045,70],[0.245,-0.02,66],[0.25,-0.04,72],
  [0.101,-0.015,70],[0.104,-0.006,66],[0.107,-0.025,72],[0.109,-0.012,70],[0.112,-0.035,72],[0.114,-0.02,70],
  [0.118,-0.028,72],[0.121,-0.042,70],[0.124,-0.015,68],[0.128,-0.03,72],[0.131,-0.04,70],[0.134,-0.012,66],
  [0.138,-0.035,72],[0.141,-0.025,70],[0.144,-0.045,72],[0.148,-0.018,68],[0.151,-0.035,72],[0.154,-0.026,70],
  [0.158,-0.04,72],[0.161,-0.015,66],[0.164,-0.035,72],[0.168,-0.045,70],[0.171,-0.02,68],[0.174,-0.05,72],
  [0.178,-0.03,70],[0.181,-0.012,66],[0.184,-0.04,72],[0.188,-0.025,70],[0.191,-0.048,72],[0.195,-0.03,70],
  [0.198,-0.02,66],[0.203,-0.035,72],[0.207,-0.055,70],[0.21,-0.03,72],[0.214,-0.06,70],[0.218,-0.028,72],
  [0.223,-0.045,70],[0.228,-0.02,66],[0.233,-0.04,72],[0.238,-0.025,70],[0.243,-0.058,72],[0.248,-0.015,70],
  [0.26,0.038,25],[0.27,0.035,40],[0.28,-0.015,70],[0.285,0.03,45],[0.29,-0.04,72],[0.3,0.038,28],[0.3,0.02,50],
  [0.305,-0.018,70],[0.31,0.005,55],[0.315,-0.05,72],[0.32,0.038,30],[0.325,0.025,48],[0.33,-0.015,70],
  [0.34,0.015,52],[0.345,-0.02,70],[0.35,0.04,32],[0.355,0.03,44],[0.36,-0.016,68],[0.365,-0.054,72],
  [0.37,0.01,55],[0.375,0.038,40],[0.38,0.042,35],[0.385,-0.02,70],[0.39,0.025,48],[0.395,0.036,42],
  [0.4,-0.012,70],[0.405,0.04,30],[0.41,0.02,52],[0.42,-0.015,68],[0.425,0.017,50],[0.43,0.035,38],
  [0.44,0.008,55],[0.445,-0.015,70],[0.45,0.034,35],[0.455,-0.045,72],[0.46,0.02,52],[0.465,-0.043,72],
  [0.47,0.035,40],[0.475,-0.02,70],[0.48,-0.028,72],[0.485,0.015,55],[0.49,0.034,42],[0.5,0.038,28],
  [0.505,-0.01,70],[0.51,0.02,50],[0.52,0.004,58],[0.53,0.036,35],[0.535,0.034,38],[0.54,0.025,45],
  [0.545,0.018,48],[0.55,-0.015,70],[0.56,0.002,56],[0.57,-0.022,70],[0.58,0.029,42],[0.585,0.026,45],
  [0.59,0.005,62],[0.59,-0.002,66],
  [0.265,-0.02,70],[0.275,-0.03,72],[0.295,-0.017,70],[0.31,-0.025,72],[0.335,-0.018,70],[0.35,-0.015,70],
  [0.36,-0.017,72],[0.37,-0.025,70],[0.39,-0.022,72],[0.41,-0.015,70],[0.43,-0.016,72],[0.27,0.02,48],
  [0.28,0.03,40],[0.29,0.012,52],[0.31,0.03,42],[0.33,0.02,48],[0.34,0.035,38],[0.36,0.022,46],[0.26,0.035,30],
  [0.29,0.036,32],[0.33,0.037,35]
];
const leadAgeTicksY = [-0.08, -0.06, -0.04, -0.02, 0, 0.02, 0.04];

// (G) interaction blood lead x gender [x, shap]
const femalePts = [
  [0.01,-0.004],[0.015,-0.0045],[0.02,-0.0038],[0.025,-0.0044],[0.03,-0.004],[0.035,-0.0046],[0.04,-0.0042],
  [0.045,-0.0045],[0.05,-0.0038],[0.055,-0.0035],[0.06,-0.003],[0.065,-0.0022],[0.07,-0.0014],[0.075,-0.0006],
  [0.08,0.0],[0.085,0.0006],[0.09,0.001],[0.095,0.0014],[0.1,0.0016],[0.11,0.0018],[0.12,0.0015],[0.13,0.0019],
  [0.14,0.0017],[0.15,0.002],[0.16,0.0017],[0.17,0.0019],[0.18,0.0018],[0.19,0.0021],[0.2,0.0018],[0.21,0.002],
  [0.22,0.0022],[0.23,0.0019],[0.235,0.003],[0.236,0.005],[0.237,0.007],[0.238,0.004],[0.24,0.009],[0.242,0.011],
  [0.245,0.01],[0.25,0.012],[0.255,0.0095],[0.26,0.011],[0.265,0.013],[0.27,0.01],[0.275,0.012],[0.28,0.0105],
  [0.285,0.0125],[0.29,0.011],[0.295,0.0155],[0.3,0.012],[0.31,0.0115],[0.32,0.013],[0.33,0.01],[0.34,0.012],
  [0.345,0.016],[0.35,0.013],[0.36,0.0145],[0.365,0.012],[0.37,0.015],[0.375,0.0165],[0.38,0.013],[0.39,0.0115],
  [0.45,0.0155],[0.46,0.0155],[0.47,0.012],[0.48,0.0135],[0.49,0.011],[0.5,0.0135],[0.51,0.013],[0.54,0.012],
  [0.58,0.0135],[0.59,0.0145]
];
const malePts = [
  [0.01,0.0045],[0.015,0.005],[0.02,0.0042],[0.025,0.005],[0.03,0.0046],[0.035,0.0052],[0.04,0.0044],
  [0.045,0.0048],[0.05,0.0038],[0.055,0.0034],[0.06,0.0028],[0.065,0.002],[0.07,0.0012],[0.075,0.0005],
  [0.08,-0.0002],[0.085,-0.0006],[0.09,-0.001],[0.1,-0.0012],[0.11,-0.0014],[0.12,-0.0011],[0.13,-0.0015],
  [0.14,-0.0013],[0.15,-0.0016],[0.16,-0.0014],[0.17,-0.0017],[0.18,-0.0015],[0.19,-0.0018],[0.2,-0.0016],
  [0.21,-0.0019],[0.22,-0.0018],[0.23,-0.002],[0.235,-0.004],[0.237,-0.006],[0.239,-0.008],[0.242,-0.01],
  [0.245,-0.0085],[0.25,-0.0095],[0.255,-0.0105],[0.26,-0.009],[0.265,-0.0115],[0.27,-0.0095],[0.275,-0.008],
  [0.28,-0.0105],[0.285,-0.009],[0.29,-0.0115],[0.295,-0.0095],[0.3,-0.012],[0.31,-0.0105],[0.32,-0.01],
  [0.33,-0.0125],[0.34,-0.011],[0.35,-0.0095],[0.36,-0.0135],[0.37,-0.012],[0.38,-0.0105],[0.39,-0.0135],
  [0.4,-0.0115],[0.41,-0.0125],[0.42,-0.0105],[0.43,-0.014],[0.44,-0.011],[0.45,-0.0115],[0.46,-0.0125],
  [0.47,-0.0105],[0.48,-0.012],[0.5,-0.011],[0.52,-0.0105],[0.53,-0.012],[0.55,-0.0115],[0.58,-0.013],
  [0.59,-0.0135]
];
const genderTicksY = [-0.02, -0.01, 0, 0.01, 0.02];

const ageTicks = [20, 30, 40, 50, 60, 70];
const ageStops = [[0, '#008bfb'], [0.17, '#3f7ff5'], [0.34, '#7a62e4'], [0.51, '#a23cc6'],
                  [0.68, '#cb12a0'], [0.85, '#ef006c'], [1, '#ff0051']];
const AGE_MIN = 19.5, AGE_MAX = 78.7;

/* ================= HELPERS ================= */

function put(html, x, y, cls, style) {
  const d = document.createElement('div');
  d.className = 't ' + (cls || '');
  d.style.left = x + 'px';
  d.style.top = y + 'px';
  if (style) d.style.cssText += style;
  d.innerHTML = html;
  document.body.appendChild(d);
  return d;
}

function seg(x, y, w) {
  const d = document.createElement('div');
  d.className = 'seg';
  d.style.left = x + 'px';
  d.style.top = (y - 0.75) + 'px';
  d.style.width = w + 'px';
  document.body.appendChild(d);
}

function hex(c) {
  return [1, 3, 5].map(i => parseInt(c.slice(i, i + 2), 16));
}

function ageColor(age) {
  const t = Math.min(1, Math.max(0, (age - AGE_MIN) / (AGE_MAX - AGE_MIN)));
  for (let i = 1; i < ageStops.length; i++) {
    if (t <= ageStops[i][0]) {
      const [t0, c0] = ageStops[i - 1], [t1, c1] = ageStops[i];
      const f = (t - t0) / (t1 - t0), a = hex(c0), b = hex(c1);
      return `rgb(${a.map((v, k) => Math.round(v + (b[k] - v) * f)).join(',')})`;
    }
  }
  return ageStops[ageStops.length - 1][1];
}

/* ================= TEXT + TABLE ================= */

put('Improving prediction power', 337, 18, 'head');
put('(A) AUROC on different mortality prediction tasks', 339, 46, 'sub');
put('Capturing non-linear relationships and important thresholds', 1025, 19, 'head');
put('Measuring feature interaction effects', 700, 337, 'head');

const headX = [302, 403, 499];
const valX = [296, 398, 499];
modelNames.forEach((m, i) => put(m.join('<br>'), headX[i], 76.5, 'colhead'));

tasks.forEach((task, r) => {
  const cy = 109.3 + r * 25.65;
  put(task, 186, cy, 'rowlab');
  const row = [lrAuc[r], gbtAuc[r], nnAuc[r]];
  const best = Math.max(...row);
  row.forEach((v, i) => put(v.toFixed(4), valX[i], cy, 'val', v === best ? 'font-weight:bold' : ''));
  [[lrStars[r], 324, 350, 362], [nnStars[r], 426, 451, 462]].forEach(([s, a, sx, b]) => {
    if (!s) return;
    seg(a, cy, 16);
    put(s, sx, cy + 2.5, 'star');
    seg(b, cy, 15);
  });
});

put('(B)', 723, 69, 'panel');
put('(C)', 1072, 70, 'panel');
put('(D)', 23, 374, 'panel');
put('(E)', 386, 373, 'panel');
put('(F)', 707, 373, 'panel');
put('(G)', 1066, 373, 'panel');
put('=', 361, 481, 'op', 'transform:translate(-50%,-50%) rotate(90deg)');
put('+', 678, 481, 'op');

/* ================= CHARTS ================= */

Chart.defaults.font.family = SERIF;
Chart.defaults.color = INK;

const extras = {
  id: 'extras',
  afterDraw(chart, args, o) {
    const { ctx, chartArea: a, scales } = chart;
    ctx.save();
    if (o.rotatedX) {
      const s = scales.x;
      ctx.fillStyle = INK;
      ctx.font = `13px ${SERIF}`;
      ctx.textAlign = 'left';
      ctx.textBaseline = 'middle';
      s.ticks.forEach(t => {
        ctx.save();
        ctx.translate(s.getPixelForValue(t.value) - 3, s.top + 10);
        ctx.rotate(Math.PI * 40 / 180);
        ctx.fillText(String(t.value), 0, 0);
        ctx.restore();
      });
    }
    if (o.cut !== undefined) {
      const x = scales.x.getPixelForValue(o.cut);
      ctx.strokeStyle = RED;
      ctx.lineWidth = 1.5;
      ctx.beginPath();
      ctx.moveTo(x, a.top);
      ctx.lineTo(x, a.bottom);
      ctx.stroke();
      ctx.fillStyle = RED;
      ctx.font = `14px ${SERIF}`;
      ctx.textAlign = 'left';
      ctx.textBaseline = 'middle';
      ctx.fillText(o.cutLabel, x + o.cutDx, a.top + o.cutDy);
    }
    if (o.ageBar) {
      const s = scales.age;
      const x0 = s.left + o.ageBar.dx;
      const top = s.getPixelForValue(s.max), bot = s.getPixelForValue(s.min);
      const g = ctx.createLinearGradient(0, bot, 0, top);
      ageStops.forEach(([t, c]) => g.addColorStop(t, c));
      ctx.fillStyle = g;
      ctx.fillRect(x0, top, 3, bot - top);
      ctx.strokeStyle = INK;
      ctx.lineWidth = 1;
      s.ticks.forEach(t => {
        const y = Math.round(s.getPixelForValue(t.value)) + 0.5;
        ctx.beginPath();
        ctx.moveTo(x0 + 3, y);
        ctx.lineTo(x0 + 6, y);
        ctx.stroke();
      });
      ctx.fillStyle = INK;
      ctx.font = `14px ${SERIF}`;
      ctx.textAlign = 'center';
      ctx.textBaseline = 'middle';
      ctx.translate(s.left + o.ageBar.titleDx, (top + bot) / 2 + 4);
      ctx.rotate(-Math.PI / 2);
      ctx.fillText('Age', 0, 0);
    }
    if (o.genderBar) {
      const x0 = a.right + o.genderBar.dx, mid = (a.top + a.bottom) / 2;
      ctx.fillStyle = RED;
      ctx.fillRect(x0, a.top, 3, mid - a.top);
      ctx.fillStyle = BLUE;
      ctx.fillRect(x0, mid, 3, a.bottom - mid);
      ctx.font = `14px ${SERIF}`;
      ctx.textAlign = 'center';
      ctx.textBaseline = 'middle';
      ctx.fillStyle = RED;
      ctx.fillText('Female', x0 + 2, a.top - 8);
      ctx.fillStyle = BLUE;
      ctx.fillText('Male', x0 + 12, a.bottom + 10);
      ctx.fillStyle = INK;
      ctx.translate(x0 + 27, mid);
      ctx.rotate(-Math.PI / 2);
      ctx.fillText('Gender', 0, 0);
    }
    ctx.restore();
  }
};
Chart.register(extras);

function axisX(min, max, ticks, dec, title, height, showLabels = true) {
  return {
    type: 'linear', min, max, bounds: 'data',
    afterBuildTicks: s => { s.ticks = ticks.map(v => ({ value: v })); },
    afterFit: s => { s.height = height; },
    grid: { display: true, drawOnChartArea: false, drawTicks: true, tickLength: 4, color: INK },
    border: { display: true, color: INK, width: 1 },
    ticks: { display: showLabels, color: INK, font: { size: 13 }, padding: 3, maxRotation: 0, autoSkip: false,
             callback: v => v.toFixed(dec) },
    title: { display: true, text: title, color: INK, font: { size: 14, lineHeight: 1.15 }, padding: 0 }
  };
}

function axisY(min, max, ticks, dec, title, width) {
  return {
    type: 'linear', position: 'left', min, max, bounds: 'data',
    afterBuildTicks: s => { s.ticks = ticks.map(v => ({ value: v })); },
    afterFit: s => { s.width = width; },
    grid: { display: true, drawOnChartArea: false, drawTicks: true, tickLength: 4, color: INK },
    border: { display: true, color: INK, width: 1 },
    ticks: { color: INK, font: { size: 13 }, padding: 4, autoSkip: false, callback: v => v.toFixed(dec) },
    title: { display: true, text: title, color: INK, font: { size: 14, lineHeight: 1.15 }, padding: 0 }
  };
}

function axisAge(width, pad) {
  return {
    type: 'linear', position: 'right', min: AGE_MIN, max: AGE_MAX, bounds: 'data',
    afterBuildTicks: s => { s.ticks = ageTicks.map(v => ({ value: v })); },
    afterFit: s => { s.width = width; },
    grid: { display: false, drawTicks: false },
    border: { display: false },
    ticks: { color: INK, font: { size: 13 }, padding: pad, autoSkip: false }
  };
}

function dots(points, colors) {
  return {
    data: points.map(p => ({ x: p[0], y: p[1] })),
    pointRadius: 1.8, pointBorderWidth: 0, pointHoverRadius: 0,
    pointBackgroundColor: colors || DOT
  };
}

function scatter(box, datasets, scales, extra) {
  const c = document.createElement('canvas');
  c.width = box.w;
  c.height = box.h;
  c.style.left = box.left + 'px';
  c.style.top = box.top + 'px';
  document.body.appendChild(c);
  return new Chart(c, {
    type: 'scatter',
    data: { datasets },
    options: {
      responsive: false, animation: false, events: [], devicePixelRatio: 1,
      layout: { padding: { top: box.padTop, right: box.padRight, left: 0, bottom: 0 } },
      plugins: { legend: { display: false }, tooltip: { enabled: false }, extras: extra || {} },
      scales
    }
  });
}

// (B)
scatter({ left: 712, top: 68, w: 290, h: 225, padTop: 14, padRight: 10 },
  [dots(uricPts)],
  { x: axisX(-0.1, 13.0, uricTicksX, 0, 'Uric acid, serum (mg/dL)', 37),
    y: axisY(-0.0194, 0.0467, uricTicksY, 2, ['SHAP main effect value for', 'Uric acid, serum'], 66) });

// (C)
scatter({ left: 1064, top: 68, w: 292, h: 232, padTop: 14, padRight: 20 },
  [dots(albuminPts)],
  { x: axisX(-92, 2027, albuminTicksX, 0, 'Albumin, urine (ug/mL)', 47, false),
    y: axisY(-0.33, 0.73, albuminTicksY, 1, ['SHAP  main effect  value', 'for Albumin, urine'], 61) },
  { rotatedX: true, cut: 250, cutLabel: '250 ug/mL', cutDx: 5, cutDy: 6 });

// (D)
scatter({ left: 10, top: 376, w: 332, h: 229, padTop: 14, padRight: 0 },
  [dots(leadPts, leadPts.map(p => ageColor(p[2])))],
  { x: axisX(-0.019, 0.622, leadTicksX, 1, 'Blood lead (umol/L)', 41),
    y: axisY(-0.209, 0.337, leadTicksY, 1, ['SHAP value for', 'Blood lead'], 63),
    age: axisAge(55, 18) },
  { cut: 0.105, cutLabel: '0.1 umol/L', cutDx: 9, cutDy: 3, ageBar: { dx: 12.3, titleDx: 46.5 } });

// (E)
scatter({ left: 379, top: 379, w: 290, h: 228, padTop: 14, padRight: 10 },
  [dots(leadMainPts)],
  { x: axisX(-0.026, 0.62, leadTicksX, 1, 'Blood lead (umol/L)', 38),
    y: axisY(-0.197, 0.248, leadMainTicksY, 2, ['SHAP value for Blood lead', 'without the age interaction'], 66) });

// (F)
scatter({ left: 697, top: 378, w: 338, h: 227, padTop: 14, padRight: 0 },
  [dots(leadAgePts, leadAgePts.map(p => ageColor(p[2])))],
  { x: axisX(-0.015, 0.62, leadTicksX, 1, 'Blood lead (umol/L)', 40),
    y: axisY(-0.08, 0.0548, leadAgeTicksY, 2, ['SHAP interaction value', 'for Blood lead and Age'], 71),
    age: axisAge(58, 23) },
  { cut: 0.105, cutLabel: '0.1 umol/L', cutDx: 7, cutDy: 5.6, ageBar: { dx: 18.3, titleDx: 50 } });

// (G)
scatter({ left: 1047, top: 380, w: 311, h: 215, padTop: 22, padRight: 44 },
  [dots(malePts, BLUE), dots(femalePts, RED)],
  { x: axisX(-0.028, 0.614, leadTicksX, 1, 'Blood lead (umol/L)', 36),
    y: axisY(-0.0243, 0.0259, genderTicksY, 2, ['SHAP interaction value for', 'Blood lead and Gender'], 74) },
  { cut: 0.235, cutLabel: '0.24 umol/L', cutDx: 7, cutDy: 3.3, genderBar: { dx: 12 } });
</script>
</body>
</html>
